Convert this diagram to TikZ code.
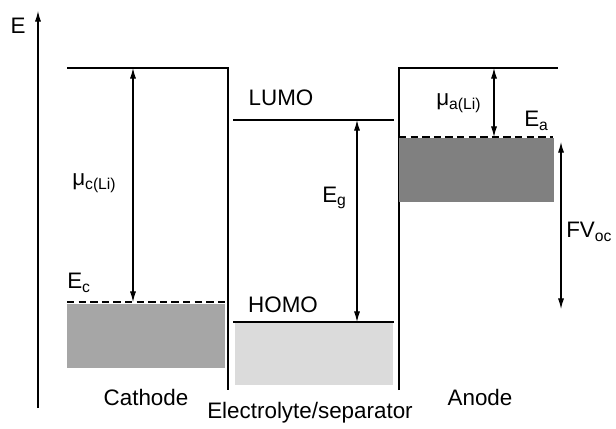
\documentclass[tikz,border=0pt]{standalone}
\usepackage{fontspec}
\setmainfont{Liberation Sans}
\usetikzlibrary{arrows.meta}
\begin{document}
\begin{tikzpicture}[x=0.75pt,y=-0.75pt,
  lvl/.style={line width=0.8pt},
  dashline/.style={line width=0.8pt,dash pattern=on 5.5pt off 3.2pt},
  dbl/.style={line width=0.8pt,{Latex[length=8pt,width=4.6pt]}-{Latex[length=8pt,width=4.6pt]}},
  lbl/.style={inner sep=0pt,font=\fontsize{16.8}{20}\selectfont},
  darkband/.style={fill=black!50,draw=none},
  midband/.style={fill=black!35,draw=none},
  lightband/.style={fill=black!14,draw=none}]
\useasboundingbox (0,0) rectangle (616,428);
% axis
\coordinate (ax0) at (38,408);
\coordinate (ax1) at (38,11);
\draw[line width=0.8pt,-{Latex[length=8pt,width=4.6pt]}] (ax0) -- (ax1);
\node[lbl] (E) at (18,26) {E};
% cathode
\coordinate (ctl) at (67,68);
\coordinate (ctr) at (228,68);
\coordinate (cb) at (228,390);
\draw[lvl] (ctl) -- (ctr) -- (cb);
\fill[midband] (67,304) rectangle (225,368);
\coordinate (cdl) at (67,302);
\coordinate (cdr) at (228,302);
\draw[dashline] (cdl) -- (cdr);
\coordinate (cmt) at (133,68);
\coordinate (cmb) at (133,302);
\draw[dbl] (cmt) -- (cmb);
\node[lbl,anchor=west] (muc) at (72,183) {μ\textsubscript{c(Li)}};
\node[lbl,anchor=west] (Ec) at (67,283) {E\textsubscript{c}};
\node[lbl] (cath) at (146,397) {Cathode};
% electrolyte
\fill[lightband] (235,323) rectangle (393,385);
\coordinate (ll) at (233,120);
\coordinate (lr) at (394,120);
\coordinate (hl) at (233,322);
\coordinate (hr) at (394,322);
\draw[lvl] (ll) -- (lr);
\draw[lvl] (hl) -- (hr);
\node[lbl] (lumo) at (281,98) {LUMO};
\node[lbl] (homo) at (283,305) {HOMO};
\coordinate (egt) at (357,120);
\coordinate (egb) at (357,322);
\draw[dbl] (egt) -- (egb);
\node[lbl,anchor=west] (Eg) at (322,198) {E\textsubscript{g}};
\node[lbl] (elec) at (310,413) {Electrolyte/separator};
% anode
\coordinate (ab) at (399,390);
\coordinate (atl) at (399,68);
\coordinate (atr) at (558,68);
\draw[lvl] (ab) -- (atl) -- (atr);
\fill[darkband] (399,138) rectangle (554,202);
\coordinate (adl) at (399,137);
\coordinate (adr) at (553,137);
\draw[dashline] (adl) -- (adr);
\coordinate (amt) at (494,68);
\coordinate (amb) at (494,137);
\draw[dbl] (amt) -- (amb);
\node[lbl,anchor=west] (mua) at (436,103) {μ\textsubscript{a(Li)}};
\node[lbl,anchor=west] (Ea) at (524,121) {E\textsubscript{a}};
\coordinate (fvt) at (561,142);
\coordinate (fvb) at (561,309);
\draw[dbl] (fvt) -- (fvb);
\node[lbl,anchor=west] (fv) at (566,232) {FV\textsubscript{oc}};
\node[lbl] (anode) at (480,397) {Anode};
\end{tikzpicture}
\end{document}
